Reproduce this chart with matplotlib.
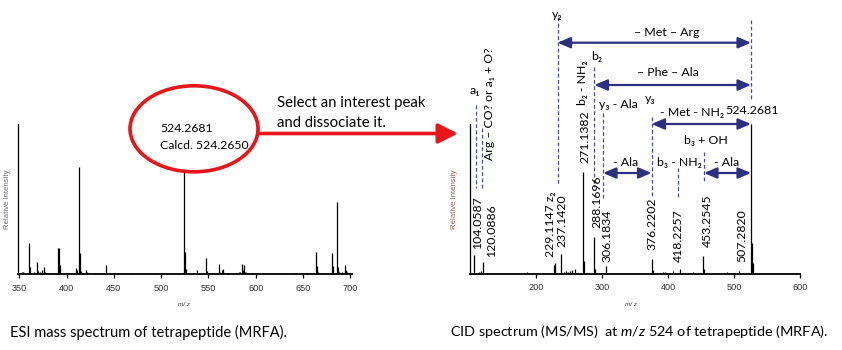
import matplotlib
matplotlib.use("Agg")
import matplotlib.pyplot as plt
from matplotlib.patches import Ellipse

plt.rcParams['font.family'] = ['Lato', 'DejaVu Sans']
plt.rcParams['mathtext.fontset'] = 'custom'
plt.rcParams['mathtext.it'] = 'Lato:italic'
plt.rcParams['mathtext.rm'] = 'Lato'

# ESI full scan (left panel), relative intensity (1 = base peak)
esi_mz = [352.8, 354.2, 360.6, 361.6, 365.9, 369.0, 370.1, 372.2, 374.3, 376.4,
          377.5, 379.6, 381.7, 385.9, 391.2, 392.3, 393.3, 394.4, 400.0, 409.5,
          411.3, 413.4, 414.5, 415.5, 420.1, 421.2, 429.6, 435.3, 442.0, 443.0,
          450.0, 468.7, 493.8, 524.4, 525.5, 526.5, 538.2, 547.0, 548.0, 558.6,
          560.7, 561.8, 563.9, 565.6, 569.2, 570.2, 582.6, 583.6, 585.7, 586.8,
          587.8, 588.9, 590.0, 594.2, 641.8, 664.0, 665.0, 666.1, 680.9, 681.9,
          686.2, 687.2, 688.3, 691.4, 694.6, 695.7, 696.7]
esi_int = [0.011, 0.011, 0.209, 0.049, 0.016, 0.082, 0.022, 0.013, 0.024, 0.049,
           0.016, 0.009, 0.009, 0.007, 0.176, 0.176, 0.062, 0.009, 0.009, 0.038,
           0.029, 0.713, 0.142, 0.018, 0.024, 0.011, 0.007, 0.004, 0.062, 0.009,
           0.007, 0.007, 0.007, 1.0, 0.149, 0.036, 0.024, 0.109, 0.022, 0.009,
           0.069, 0.011, 0.024, 0.031, 0.009, 0.009, 0.016, 0.011, 0.069, 0.024,
           0.062, 0.016, 0.011, 0.009, 0.009, 0.149, 0.056, 0.011, 0.142, 0.056,
           0.478, 0.047, 0.013, 0.016, 0.062, 0.029, 0.016]
esi_ticks = [350, 400, 450, 500, 550, 600, 650, 700]

# CID MS/MS of m/z 524 (right panel)
cid_mz = [105.6, 114.1, 116.2, 120.2, 185.9, 227.8, 229.3, 238.4, 242.4, 245.5,
          248.0, 251.5, 254.5, 258.6, 271.7, 273.2, 288.4, 289.9, 306.6, 376.3,
          377.8, 391.9, 395.5, 408.0, 418.7, 438.4, 453.5, 455.0, 489.9, 508.1,
          525.8, 527.3, 528.8]
cid_int = [0.122, 0.011, 0.018, 0.076, 0.007, 0.060, 0.067, 0.133, 0.011, 0.018,
           0.011, 0.018, 0.022, 0.031, 0.682, 0.082, 0.244, 0.033, 0.049, 0.096,
           0.022, 0.011, 0.009, 0.018, 0.029, 0.011, 0.116, 0.033, 0.009, 0.016,
           1.0, 0.204, 0.067]
cid_ticks = [200, 300, 400, 500, 600]

# peak labels: text, m/z position, bottom (px from top of image)
peak_labels = [("104.0587", 112.1, 249), ("120.0886", 133.3, 257),
               ("229.1147 z\u2082", 222.7, 257), ("237.1420", 239.4, 247),
               ("271.1382", 274.2, 163), ("b\u2082 - NH\u2082", 271.2, 105),
               ("288.1696", 292.4, 228), ("306.1834", 307.6, 262),
               ("376.2202", 375.8, 250), ("418.2257", 415.2, 262),
               ("453.2545", 459.1, 247), ("507.2820", 512.1, 262),
               ("Arg \u2013 CO? or a\u2081 + O?", 128.8, 160)]
# fragment labels: text, m/z, centre y (px)
frag_labels = [("y\u2082", 231.8, 14), ("\u2013 Met \u2013 Arg", 398.5, 33),
               ("b\u2082", 292.4, 57), ("\u2013 Phe \u2013 Ala", 400.0, 73),
               ("a\u2081", 107.6, 91), ("y\u2083 - Ala", 324.2, 105),
               ("y\u2083", 372.7, 99), ("- Met - NH\u2082", 436.4, 112),
               ("524.2681", 527.3, 110), ("b\u2083 + OH", 457.6, 140),
               ("- Ala", 336.4, 162), ("b\u2083 - NH\u2082", 416.7, 162),
               ("- Ala", 489.4, 162)]
# dashed guide lines: m/z, top px, bottom px
guides = [(108.6, 105, 188), (118.9, 128, 188), (232.6, 17, 185), (288.6, 67, 187),
          (301.5, 113, 200), (375.0, 117, 197), (415.2, 168, 198), (454.5, 152, 182),
          (525.8, 20, 100)]
# mass-difference arrows: from m/z, to m/z, y px
spans = [(232.6, 525.8, 42.7), (288.6, 525.8, 85), (375.0, 525.8, 124),
         (301.5, 375.0, 173), (454.5, 525.8, 173)]

W, H = 842, 350
fig = plt.figure(figsize=(W / 100, H / 100), dpi=100)


def rect(x0, x1, ytop, ybot):
    return [x0 / W, 1 - ybot / H, (x1 - x0) / W, (ybot - ytop) / H]


def style(ax, ticks):
    for s in ['top', 'right']:
        ax.spines[s].set_visible(False)
    ax.spines['left'].set_linewidth(0.9)
    ax.spines['bottom'].set_linewidth(1.3)
    ax.set_yticks([])
    ax.set_xticks(ticks)
    ax.tick_params(axis='x', direction='out', length=3, width=0.9, pad=4,
                   labelsize=6.6, labelcolor='#333333')
    for t in ax.get_xticklabels():
        t.set_family('Liberation Sans')
    ax.set_ylim(0, 1)


ax1 = fig.add_axes(rect(18.3, 352.3, 124, 274))
ax1.vlines(esi_mz, 0, esi_int, color='black', lw=0.9)
ax1.set_xlim(349, 702)
style(ax1, esi_ticks)

ax2 = fig.add_axes(rect(470, 800, 124, 273.5))
ax2.vlines(cid_mz, 0, cid_int, color='black', lw=0.9)
ax2.set_xlim(100, 600)
style(ax2, cid_ticks)


def ry(py):
    return (273.5 - py) / 149.5


navy = '#2f2f7f'
for mz, t, b in guides:
    ax2.plot([mz, mz], [ry(t), ry(b)], color='#4a4a9a', lw=0.9,
             ls=(0, (3, 2)), clip_on=False)
for a, b, y in spans:
    ax2.annotate('', xy=(b, ry(y)), xytext=(a, ry(y)), annotation_clip=False,
                 arrowprops=dict(arrowstyle='<|-|>,head_length=0.7,head_width=0.3',
                                 color=navy, lw=1.6, shrinkA=0, shrinkB=0,
                                 mutation_scale=11))
for txt, mz, b in peak_labels:
    ax2.text(mz, ry(b), txt, rotation=90, ha='center', va='bottom',
             fontsize=8.8, clip_on=False)
for txt, mz, y in frag_labels:
    ax2.text(mz, ry(y), txt, ha='center', va='center', fontsize=8.9, clip_on=False)

# axis captions
for x, col in [(8, '#6a6a8a'), (455, '#a06060')]:
    fig.text(x / W, 1 - 199 / H, 'Relative Intensity', rotation=90, ha='center',
             va='center', fontsize=5.6, color=col, family='Liberation Sans')
for x in [184, 631]:
    fig.text(x / W, 1 - 304 / H, 'm/ z', ha='center', va='center', fontsize=4.5,
             style='italic', color='#333333', family='Liberation Sans')

ov = fig.add_axes([0, 0, 1, 1], zorder=5)
ov.set_xlim(0, W)
ov.set_ylim(H, 0)
ov.axis('off')
ov.patch.set_alpha(0)
red = '#e8161b'
ov.add_patch(Ellipse((194, 128.8), 128, 86, fc='white', ec=red, lw=2.6))
ov.text(160, 128.3, '524.2681', va='center', fontsize=8.8)
ov.text(160, 145.5, 'Calcd. 524.2650', va='center', fontsize=8.8)
ov.annotate('', xy=(458, 133.5), xytext=(258, 133.5),
            arrowprops=dict(arrowstyle='-|>,head_length=1.0,head_width=0.5',
                            color=red, lw=2.6, shrinkA=0, shrinkB=0,
                            mutation_scale=12))
ov.text(277, 103, 'Select an interest peak', va='center', fontsize=10.7)
ov.text(277, 123, 'and dissociate it.', va='center', fontsize=10.7)
ov.text(10, 332, 'ESI mass spectrum of tetrapeptide (MRFA).', va='center', fontsize=10.5)
ov.text(450, 332, 'CID spectrum (MS/MS)  at $m/z$ 524 of tetrapeptide (MRFA).',
        va='center', fontsize=10.4)

fig.savefig('out.png', dpi=100)
